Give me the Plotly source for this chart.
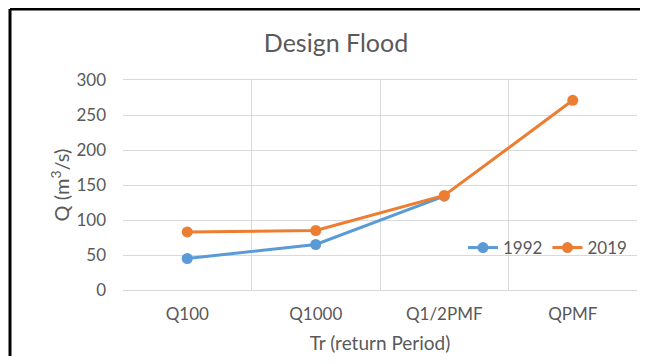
import plotly.graph_objects as go

categories = ["Q100", "Q1000", "Q1/2PMF", "QPMF"]
q_1992 = [45, 65, 134, None]
q_2019 = [83, 85, 135, 271]
y_ticks = [0, 50, 100, 150, 200, 250, 300]

font_family = "Lato, 'Open Sans', sans-serif"
gray = "#595959"

# the page has an 8px body margin; work in page pixels and convert
OFF = 8
W, H = 632, 348
PL, PR, PT, PB = 123, 637, 80, 290  # plot area in page pixels
L = PL - OFF
R = W - (PR - OFF)
T = PT - OFF
B = H - (PB - OFF)
pw, ph = PR - PL, PB - PT


def px_x(x):
    return (x - PL) / pw


def px_y(y):
    return (PB - y) / ph


fig = go.Figure()
fig.add_trace(go.Scatter(x=categories, y=q_1992, name="1992", mode="lines+markers",
                         line=dict(color="#5B9BD5", width=3),
                         marker=dict(size=11, color="#5B9BD5")))
fig.add_trace(go.Scatter(x=categories, y=q_2019, name="2019", mode="lines+markers",
                         line=dict(color="#ED7D31", width=3),
                         marker=dict(size=11, color="#ED7D31")))

fig.update_layout(
    width=W, height=H,
    margin=dict(l=L, r=R, t=T, b=B),
    paper_bgcolor="white", plot_bgcolor="white",
    font=dict(family=font_family, color=gray, size=16),
    title=dict(text="Design Flood", x=(336 - OFF) / W, xanchor="center",
               y=1 - (43 - OFF) / H, yanchor="middle",
               font=dict(size=25, color=gray, family=font_family)),
    showlegend=True,
    legend=dict(orientation="h", x=px_x(632), xanchor="right",
                y=px_y(248), yanchor="middle",
                font=dict(size=17, color=gray), bgcolor="rgba(0,0,0,0)",
                itemwidth=30, tracegroupgap=0),
    xaxis=dict(type="category", tickson="boundaries", showgrid=True,
               gridcolor="#d9d9d9", gridwidth=1, ticks="",
               showline=True, linecolor="#d9d9d9", mirror=True,
               range=[-0.5, 3.5], tickfont=dict(size=17, color=gray),
               ticklabelstandoff=9,
               title=dict(text="Tr (return Period)", font=dict(size=19, color=gray), standoff=13)),
    yaxis=dict(range=[0, 300], tickvals=y_ticks, showgrid=True, gridcolor="#d9d9d9",
               zeroline=False, ticks="", tickfont=dict(size=17, color=gray),
               ticklabelstandoff=16,
               title=dict(text="Q (m<sup>3</sup>/s)", font=dict(size=20, color=gray), standoff=1)),
    shapes=[
        dict(type="line", xref="paper", yref="paper", x0=px_x(10), x1=px_x(670),
             y0=px_y(9), y1=px_y(9), line=dict(color="black", width=3)),
        dict(type="line", xref="paper", yref="paper", x0=px_x(10), x1=px_x(10),
             y0=px_y(380), y1=px_y(9), line=dict(color="black", width=3)),
    ],
)

fig.write_html("out.html", config={"displayModeBar": False})
